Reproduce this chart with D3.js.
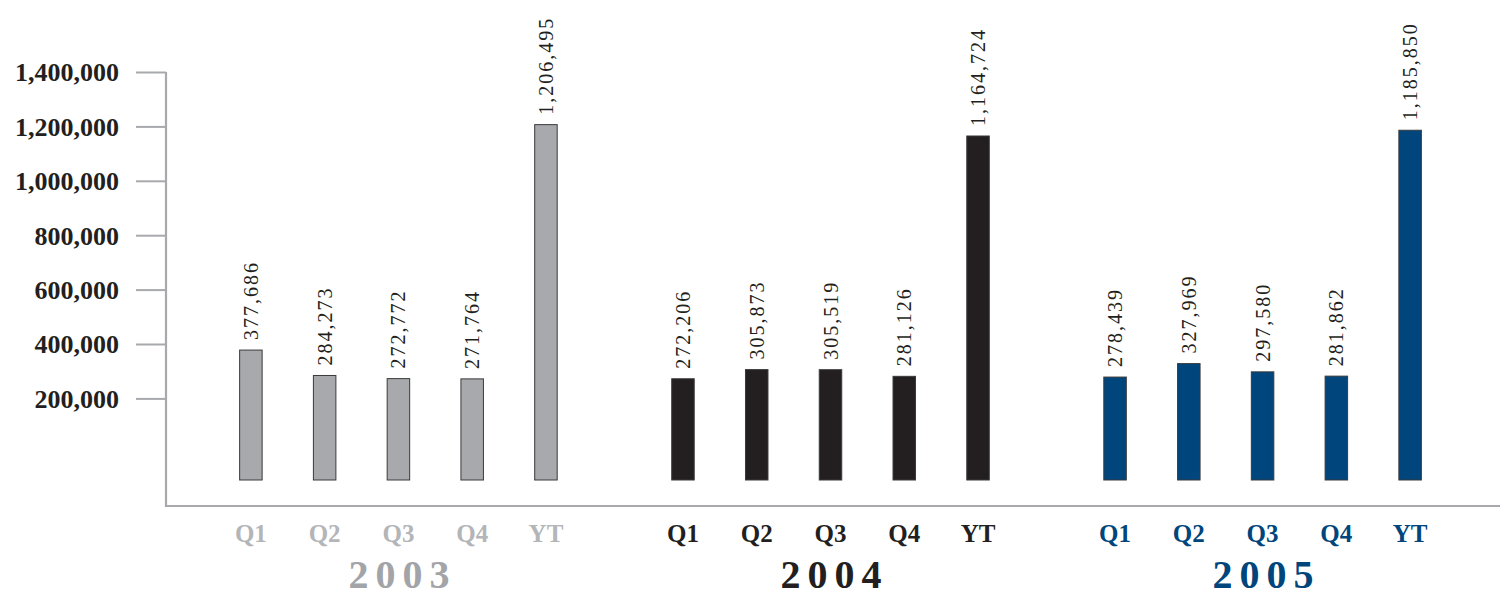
<!DOCTYPE html>
<html>
<head>
<meta charset="utf-8">
<script src="https://cdn.jsdelivr.net/npm/d3@7"></script>
<style>
  html, body { margin: 0; padding: 0; background: #fff; }
  svg { display: block; }
</style>
</head>
<body>
<svg id="chart" width="1502" height="598"></svg>
<script>
// Quarterly totals and year totals, by year
const years = ["2003", "2004", "2005"];
const periods = ["Q1", "Q2", "Q3", "Q4", "YT"];
const values2003 = [377686, 284273, 272772, 271764, 1206495];
const values2004 = [272206, 305873, 305519, 281126, 1164724];
const values2005 = [278439, 327969, 297580, 281862, 1185850];
const yTicks = [200000, 400000, 600000, 800000, 1000000, 1200000, 1400000];

const seriesByYear = { "2003": values2003, "2004": values2004, "2005": values2005 };

// Per-year styling
const barFill   = { "2003": "#a7a9ac", "2004": "#231f20", "2005": "#00457c" };
const periodInk = { "2003": "#b3b5b8", "2004": "#231f20", "2005": "#00457c" };
const yearInk   = { "2003": "#a2a4a7", "2004": "#231f20", "2005": "#00457c" };

const svg = d3.select("#chart");
const serif = "'Liberation Serif', 'Times New Roman', serif";

const axisX = 166;
const frameBottom = 506;

const y = d3.scaleLinear()
  .domain([-100000, 1400000])
  .range([480, 72]);

const x0 = d3.scaleBand()
  .domain(years)
  .range([214, 1447])
  .paddingInner(0.1464)
  .paddingOuter(0);

const x1 = d3.scaleBand()
  .domain(periods)
  .range([0, x0.bandwidth()])
  .paddingInner(0.695)
  .paddingOuter(0.3475);

// Y axis ticks and labels
const yAxis = d3.axisLeft(y)
  .tickValues(yTicks)
  .tickSize(30)
  .tickPadding(17)
  .tickFormat(d3.format(","));

const gy = svg.append("g")
  .attr("transform", `translate(${axisX},0)`)
  .call(yAxis);
gy.select(".domain").remove();
gy.selectAll(".tick line").attr("stroke", "#a7a9ac").attr("stroke-width", 2);
gy.selectAll(".tick text")
  .attr("fill", "#231f20")
  .style("font-family", serif)
  .style("font-weight", "bold")
  .style("font-size", "26px")
  .attr("dy", "0.34em");

// L-shaped frame
svg.append("path")
  .attr("d", `M${axisX},${y(1400000)}V${frameBottom}H1500`)
  .attr("fill", "none")
  .attr("stroke", "#a7a9ac")
  .attr("stroke-width", 2.2);

const groups = svg.selectAll("g.year")
  .data(years)
  .join("g")
  .attr("class", "year")
  .attr("transform", d => `translate(${x0(d)},0)`);

const barData = yr => periods.map((p, i) => ({ year: yr, period: p, value: seriesByYear[yr][i] }));

// Bars
groups.selectAll("rect")
  .data(barData)
  .join("rect")
  .attr("x", d => x1(d.period))
  .attr("width", x1.bandwidth())
  .attr("y", d => y(d.value))
  .attr("height", d => y.range()[0] - y(d.value))
  .attr("fill", d => barFill[d.year])
  .attr("stroke", "#3a3a3c")
  .attr("stroke-width", 1);

// Rotated value labels above each bar
groups.selectAll("text.value")
  .data(barData)
  .join("text")
  .attr("class", "value")
  .attr("transform", d => `translate(${x1(d.period) + x1.bandwidth() / 2 + 7},${y(d.value) - 10}) rotate(-90)`)
  .attr("fill", "#231f20")
  .style("font-family", serif)
  .style("font-size", "20px")
  .style("letter-spacing", "2px")
  .text(d => d3.format(",")(d.value));

// Period labels
groups.selectAll("text.period")
  .data(barData)
  .join("text")
  .attr("class", "period")
  .attr("x", d => x1(d.period) + x1.bandwidth() / 2)
  .attr("y", 542)
  .attr("text-anchor", "middle")
  .attr("fill", d => periodInk[d.year])
  .style("font-family", serif)
  .style("font-weight", "bold")
  .style("font-size", "25px")
  .text(d => d.period);

// Year labels
groups.append("text")
  .attr("x", x0.bandwidth() / 2 + 4)
  .attr("y", 588)
  .attr("text-anchor", "middle")
  .attr("fill", d => yearInk[d])
  .style("font-family", serif)
  .style("font-weight", "bold")
  .style("font-size", "40px")
  .style("letter-spacing", "7px")
  .text(d => d);
</script>
</body>
</html>
